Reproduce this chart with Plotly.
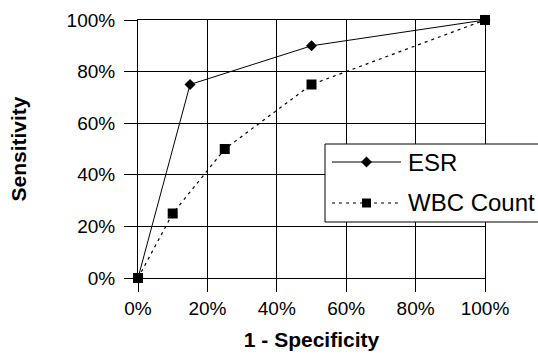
import plotly.graph_objects as go

# ROC points (1 - specificity, sensitivity)
esr_x = [0.0, 0.15, 0.50, 1.0]
esr_y = [0.0, 0.75, 0.90, 1.0]
wbc_x = [0.0, 0.10, 0.25, 0.50, 1.0]
wbc_y = [0.0, 0.25, 0.50, 0.75, 1.0]
series_names = ["ESR", "WBC Count"]

W, H = 538, 354
L, R, T, B = 138, 53, 20, 76


def px(x):
    return (x - L) / (W - L - R)


def py_(y):
    return (H - B - y) / (H - T - B)


fig = go.Figure()
fig.add_trace(go.Scatter(
    x=esr_x, y=esr_y, name=series_names[0], mode="lines+markers",
    line=dict(color="black", width=1),
    marker=dict(symbol="diamond", size=8.5, color="black"),
    cliponaxis=False, showlegend=False))
fig.add_trace(go.Scatter(
    x=wbc_x, y=wbc_y, name=series_names[1], mode="lines+markers",
    line=dict(color="black", width=1.2, dash="3px,4px"),
    marker=dict(symbol="square", size=10, color="black"),
    cliponaxis=False, showlegend=False))

axis_common = dict(
    range=[0, 1], dtick=0.2, tickformat=".0%",
    showgrid=True, gridcolor="black", gridwidth=1,
    zeroline=False, showline=True, linecolor="black", linewidth=1, mirror=True,
    ticks="outside", ticklen=13, tickcolor="black",
    tickfont=dict(family="Liberation Sans, Arial", size=19, color="black"),
    fixedrange=True, automargin=False,
)
fig.update_xaxes(**axis_common,
                 title=dict(text="<b>1 - Specificity</b>", standoff=14,
                            font=dict(family="Liberation Sans, Arial", size=21, color="black")))
fig.update_yaxes(**axis_common, ticklabelstandoff=5,
                 title=dict(text="<b>Sensitivity</b>", standoff=34,
                            font=dict(family="Liberation Sans, Arial", size=21, color="black")))

# hand-drawn legend box, running off the right edge like the original
shapes = [dict(type="rect", xref="paper", yref="paper",
               x0=px(325), x1=px(560), y0=py_(222), y1=py_(144),
               line=dict(color="black", width=1), fillcolor="white", layer="above")]
rows = [(162, "solid", "diamond"), (203, "3px,4px", "square")]
for y, dash, sym in rows:
    shapes.append(dict(type="line", xref="paper", yref="paper",
                       x0=px(332), x1=px(401), y0=py_(y), y1=py_(y),
                       line=dict(color="black", width=1, dash=dash), layer="above"))
    if sym == "diamond":
        path = "M {0},{1} L {2},{3} L {0},{4} L {5},{3} Z".format(
            px(366.5), py_(y - 5.5), px(372), py_(y), py_(y + 5.5), px(361))
    else:
        path = "M {0},{1} L {2},{1} L {2},{3} L {0},{3} Z".format(
            px(362), py_(y - 4.5), px(371), py_(y + 4.5))
    shapes.append(dict(type="path", xref="paper", yref="paper", path=path,
                       fillcolor="black", line=dict(color="black", width=0), layer="above"))

annotations = []
for (y, _, _), name in zip(rows, series_names):
    annotations.append(dict(xref="paper", yref="paper", x=px(406), y=py_(y),
                            xanchor="left", yanchor="middle", text=name, showarrow=False,
                            font=dict(family="Liberation Sans, Arial", size=24, color="black")))

fig.update_layout(
    width=W, height=H,
    margin=dict(l=L, r=R, t=T, b=B),
    paper_bgcolor="white", plot_bgcolor="white",
    shapes=shapes, annotations=annotations,
    showlegend=False,
)

# drop the browser's default page margin so the chart sits at 0,0
fig.write_html("out.html", config={"displayModeBar": False},
               post_script="document.body.style.margin='0';document.body.style.overflow='hidden';")
